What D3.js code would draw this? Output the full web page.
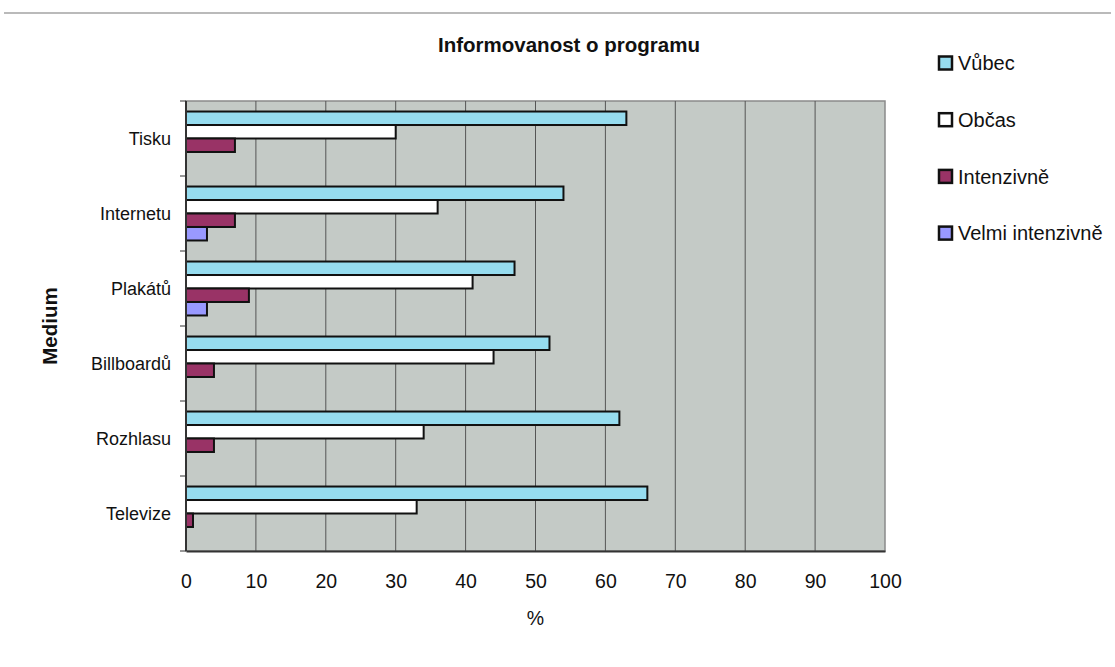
<!DOCTYPE html>
<html>
<head>
<meta charset="utf-8">
<script src="https://cdn.jsdelivr.net/npm/d3@7"></script>
<style>
  body { margin: 0; background: #fff; }
  svg { display: block; font-family: "Liberation Sans", Arial, sans-serif; }
</style>
</head>
<body>
<div id="chart"></div>
<script>
// data
const categories = ['Tisku', 'Internetu', 'Plakátů', 'Billboardů', 'Rozhlasu', 'Televize']
const seriesNames = ['Vůbec', 'Občas', 'Intenzivně', 'Velmi intenzivně']
const vubec = [63, 54, 47, 52, 62, 66]
const obcas = [30, 36, 41, 44, 34, 33]
const intenzivne = [7, 7, 9, 4, 4, 1]
const velmiIntenzivne = [0, 3, 3, 0, 0, 0]
const xTicks = [0, 10, 20, 30, 40, 50, 60, 70, 80, 90, 100]
const colors = ['#96dcef', '#ffffff', '#993366', '#9999ff']

const series = [vubec, obcas, intenzivne, velmiIntenzivne]

const W = 1115, H = 667
const margin = {top: 101, right: 230, bottom: 116, left: 186}
const width = W - margin.left - margin.right
const height = H - margin.top - margin.bottom

const svg = d3.select('#chart').append('svg')
    .attr('width', W)
    .attr('height', H)

// thin rule across the top of the page
svg.append('line')
    .attr('x1', 4).attr('x2', W - 4)
    .attr('y1', 13).attr('y2', 13)
    .attr('stroke', '#777').attr('stroke-width', 1.2)

const g = svg.append('g')
    .attr('transform', 'translate(' + margin.left + ',' + margin.top + ')')

const x = d3.scaleLinear().domain([0, 100]).range([0, width])
const y0 = d3.scaleBand().domain(categories).range([0, height])
const y1 = d3.scaleBand().domain(seriesNames)
    .range([0, y0.bandwidth()])
    .paddingOuter(0.78)

// plot background
g.append('rect')
    .attr('width', width).attr('height', height)
    .attr('fill', '#c4cac6')
    .attr('stroke', '#8a8a8a').attr('stroke-width', 1.5)

// vertical gridlines
g.append('g').selectAll('line')
    .data(xTicks.slice(1, -1))
    .join('line')
    .attr('x1', d => x(d)).attr('x2', d => x(d))
    .attr('y1', 0).attr('y2', height)
    .attr('stroke', '#555').attr('stroke-width', 1)

// bars
categories.forEach((c, i) => {
    series.forEach((s, j) => {
        if (!s[i]) return
        g.append('rect')
            .attr('x', x(0))
            .attr('y', y0(c) + y1(seriesNames[j]))
            .attr('width', x(s[i]) - x(0))
            .attr('height', y1.bandwidth())
            .attr('fill', colors[j])
            .attr('stroke', '#111')
            .attr('stroke-width', 2)
    })
})

// x axis
const xAxis = d3.axisBottom(x).tickValues(xTicks).tickSize(0).tickPadding(23)
const gx = g.append('g')
    .attr('transform', 'translate(0,' + height + ')')
    .call(xAxis)
gx.select('.domain').attr('stroke', '#333').attr('stroke-width', 2)
gx.selectAll('text').attr('font-size', 19.5).attr('fill', '#111')
    .attr('font-family', '"Liberation Sans", Arial, sans-serif')

// y axis: ticks at category boundaries
const gy = g.append('g')
gy.append('line')
    .attr('x1', 0).attr('x2', 0).attr('y1', 0).attr('y2', height)
    .attr('stroke', '#333').attr('stroke-width', 2)
gy.selectAll('line.tk')
    .data(d3.range(categories.length + 1))
    .join('line')
    .attr('class', 'tk')
    .attr('x1', -6).attr('x2', 0)
    .attr('y1', d => d * y0.step()).attr('y2', d => d * y0.step())
    .attr('stroke', '#333')
gy.selectAll('text')
    .data(categories)
    .join('text')
    .attr('x', -15)
    .attr('y', d => y0(d) + y0.bandwidth() / 2)
    .attr('dy', '0.35em')
    .attr('text-anchor', 'end')
    .attr('font-size', 18)
    .attr('fill', '#111')
    .text(d => d)

// title and axis titles
svg.append('text')
    .attr('x', 569).attr('y', 52)
    .attr('text-anchor', 'middle')
    .attr('font-size', 20.5).attr('font-weight', 'bold')
    .attr('fill', '#111')
    .text('Informovanost o programu')

svg.append('text')
    .attr('x', margin.left + width / 2).attr('y', 625)
    .attr('text-anchor', 'middle')
    .attr('font-size', 19.5).attr('fill', '#111')
    .text('%')

svg.append('text')
    .attr('transform', 'translate(57,' + (margin.top + height / 2) + ') rotate(-90)')
    .attr('text-anchor', 'middle')
    .attr('font-size', 20.5).attr('font-weight', 'bold')
    .attr('fill', '#111')
    .text('Medium')

// legend
const legend = svg.append('g').attr('transform', 'translate(939,63)')
const lg = legend.selectAll('g')
    .data(seriesNames)
    .join('g')
    .attr('transform', (d, i) => 'translate(0,' + (i * 56.7) + ')')
lg.append('rect')
    .attr('x', 0).attr('y', -6.5)
    .attr('width', 13).attr('height', 13)
    .attr('fill', (d, i) => colors[i])
    .attr('stroke', '#111').attr('stroke-width', 2.5)
lg.append('text')
    .attr('x', 19).attr('dy', '0.36em')
    .attr('font-size', 20).attr('fill', '#111')
    .text(d => d)
</script>
</body>
</html>
